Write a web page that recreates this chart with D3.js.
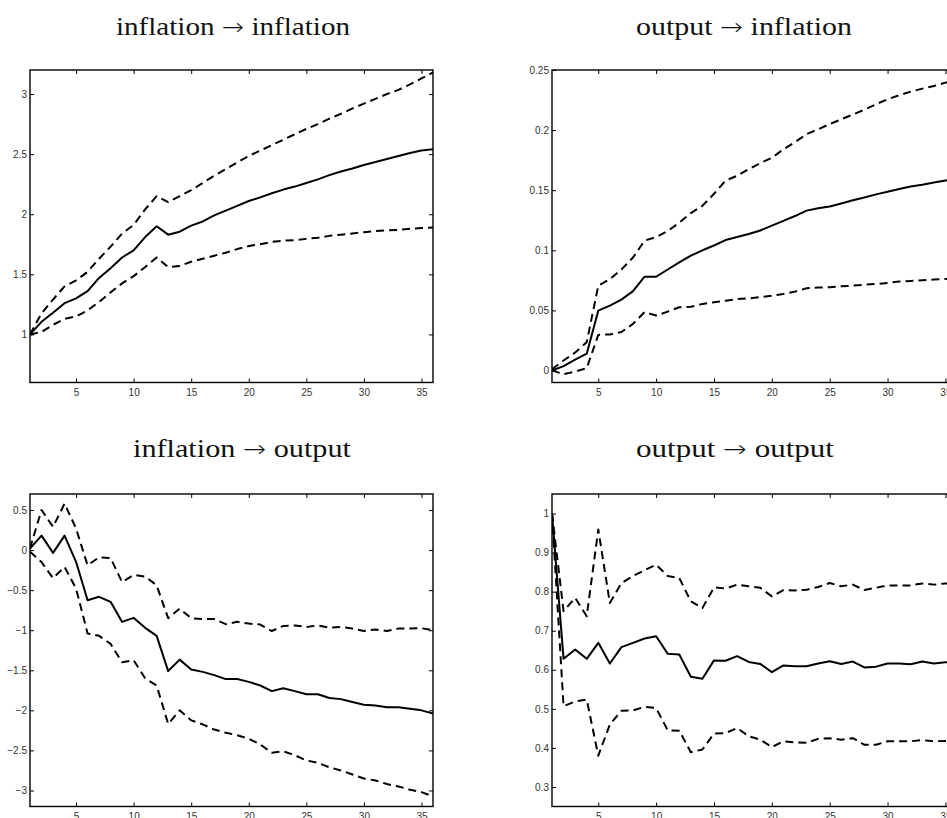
<!DOCTYPE html>
<html>
<head>
<meta charset="utf-8">
<script src="https://cdn.jsdelivr.net/npm/d3@7"></script>
<style>
  html, body { margin: 0; padding: 0; background: #fff; }
  svg { display: block; }
</style>
</head>
<body>
<svg id="chart" width="947" height="818"></svg>
<script>
// ---------------- DATA ----------------
const horizon = [1,2,3,4,5,6,7,8,9,10,11,12,13,14,15,16,17,18,19,20,21,22,23,24,25,26,27,28,29,30,31,32,33,34,35,36];
const xTicks = [5,10,15,20,25,30,35];

// titles: [shock, response]
const titles = [["inflation", "inflation"], ["output", "inflation"], ["inflation", "output"], ["output", "output"]];

// inflation -> inflation
const infInfMid = [1.0,1.105,1.18,1.26,1.30,1.36,1.47,1.55,1.64,1.70,1.81,1.90,1.83,1.855,1.905,1.94,1.99,2.03,2.07,2.11,2.14,2.175,2.205,2.23,2.26,2.29,2.325,2.355,2.38,2.41,2.435,2.46,2.485,2.51,2.53,2.54];
const infInfHi  = [1.0,1.175,1.29,1.40,1.45,1.52,1.63,1.73,1.84,1.91,2.04,2.15,2.10,2.15,2.20,2.26,2.32,2.375,2.43,2.485,2.53,2.575,2.62,2.665,2.71,2.75,2.795,2.835,2.88,2.92,2.96,3.0,3.035,3.08,3.13,3.18];
const infInfLo  = [1.0,1.02,1.08,1.13,1.15,1.20,1.27,1.35,1.425,1.485,1.56,1.64,1.56,1.57,1.605,1.63,1.655,1.68,1.71,1.735,1.75,1.77,1.78,1.785,1.795,1.805,1.82,1.83,1.84,1.85,1.86,1.865,1.87,1.88,1.885,1.89];
const infInfYTicks = [1,1.5,2,2.5,3];

// output -> inflation
const outInfMid = [0,0.0036,0.009,0.014,0.0498,0.054,0.059,0.066,0.078,0.078,0.084,0.090,0.0955,0.100,0.104,0.1085,0.111,0.1135,0.1165,0.1205,0.1245,0.1285,0.133,0.135,0.1365,0.139,0.1417,0.144,0.1465,0.1487,0.151,0.153,0.1545,0.1564,0.158,0.1595];
const outInfHi  = [0.001,0.0083,0.015,0.0235,0.0706,0.076,0.084,0.094,0.108,0.111,0.116,0.123,0.131,0.137,0.147,0.158,0.162,0.1675,0.1725,0.177,0.184,0.190,0.1966,0.2007,0.205,0.209,0.213,0.217,0.2215,0.2256,0.229,0.232,0.2345,0.2367,0.2395,0.241];
const outInfLo  = [0,-0.003,-0.001,0.002,0.0296,0.030,0.032,0.0388,0.0485,0.0457,0.049,0.0526,0.053,0.0554,0.0567,0.058,0.0595,0.060,0.061,0.0623,0.0637,0.0656,0.0684,0.069,0.0692,0.070,0.0706,0.0714,0.072,0.0728,0.074,0.0745,0.075,0.0756,0.0761,0.0765];
const outInfYTicks = [0,0.05,0.1,0.15,0.2,0.25];

// inflation -> output
const infOutMid = [0.02,0.18,-0.035,0.18,-0.146,-0.625,-0.583,-0.646,-0.896,-0.846,-0.97,-1.07,-1.51,-1.367,-1.49,-1.52,-1.56,-1.61,-1.61,-1.645,-1.69,-1.76,-1.725,-1.76,-1.80,-1.80,-1.846,-1.86,-1.896,-1.93,-1.94,-1.96,-1.96,-1.98,-2.0,-2.04];
const infOutHi  = [0.02,0.5,0.29,0.58,0.27,-0.19,-0.09,-0.10,-0.40,-0.31,-0.33,-0.44,-0.85,-0.73,-0.85,-0.86,-0.86,-0.925,-0.895,-0.917,-0.93,-1.01,-0.946,-0.94,-0.96,-0.94,-0.967,-0.96,-0.98,-1.01,-0.99,-1.01,-0.98,-0.98,-0.975,-1.0];
const infOutLo  = [-0.02,-0.15,-0.35,-0.21,-0.48,-1.04,-1.07,-1.17,-1.40,-1.375,-1.60,-1.69,-2.17,-2.0,-2.125,-2.175,-2.24,-2.28,-2.31,-2.355,-2.425,-2.53,-2.51,-2.56,-2.625,-2.655,-2.71,-2.75,-2.80,-2.85,-2.875,-2.92,-2.95,-2.99,-3.02,-3.075];
const infOutYTicks = [-3,-2.5,-2,-1.5,-1,-0.5,0,0.5];

// output -> output
const outOutMid = [1.0,0.628,0.652,0.628,0.669,0.616,0.658,0.669,0.68,0.686,0.641,0.639,0.582,0.577,0.624,0.623,0.635,0.620,0.615,0.594,0.611,0.609,0.609,0.616,0.622,0.615,0.621,0.606,0.608,0.616,0.616,0.614,0.621,0.616,0.619,0.62];
const outOutHi  = [1.0,0.75,0.784,0.737,0.959,0.771,0.822,0.84,0.855,0.869,0.84,0.835,0.775,0.758,0.811,0.808,0.818,0.814,0.81,0.788,0.804,0.803,0.805,0.812,0.822,0.814,0.818,0.804,0.81,0.816,0.816,0.816,0.821,0.818,0.821,0.822];
const outOutLo  = [1.0,0.507,0.519,0.524,0.38,0.46,0.495,0.496,0.505,0.502,0.445,0.444,0.389,0.396,0.437,0.438,0.451,0.43,0.421,0.402,0.417,0.414,0.413,0.423,0.425,0.421,0.425,0.408,0.408,0.417,0.417,0.417,0.42,0.417,0.418,0.418];
const outOutYTicks = [0.3,0.4,0.5,0.6,0.7,0.8,0.9,1];

// ---------------- LAYOUT ----------------
const panels = [
  { title: titles[0], tx: 116, ty: 35, tw: 234, box: [30, 70, 433, 382.5], ydom: [0.6, 3.2], yTicks: infInfYTicks, mid: infInfMid, hi: infInfHi, lo: infInfLo },
  { title: titles[1], tx: 636, ty: 35, tw: 216, box: [552, 70, 957, 382.5], ydom: [-0.01, 0.25], yTicks: outInfYTicks, mid: outInfMid, hi: outInfHi, lo: outInfLo },
  { title: titles[2], tx: 133, ty: 457, tw: 218, box: [30, 494, 433, 806.5], ydom: [-3.2, 0.7], yTicks: infOutYTicks, mid: infOutMid, hi: infOutHi, lo: infOutLo },
  { title: titles[3], tx: 636, ty: 457, tw: 198, box: [552, 494, 957, 806.5], ydom: [0.25, 1.05], yTicks: outOutYTicks, mid: outOutMid, hi: outOutHi, lo: outOutLo }
];

const svg = d3.select("#chart");
svg.append("rect").attr("width", 947).attr("height", 818).attr("fill", "#fff");

const fmt = v => {
  const s = String(+v.toFixed(4));
  return s.replace("-", "\u2212");
};

panels.forEach((p, i) => {
  const [x0, y0, x1, y1] = p.box;
  const x = d3.scaleLinear().domain([1, 36]).range([x0, x1]);
  const y = d3.scaleLinear().domain(p.ydom).range([y1, y0]);

  // title
  const t = svg.append("text")
    .attr("x", p.tx).attr("y", p.ty)
    .attr("font-family", "'Liberation Serif', 'DejaVu Serif', serif")
    .attr("font-size", 25)
    .attr("textLength", p.tw)
    .attr("lengthAdjust", "spacingAndGlyphs")
    .attr("fill", "#111");
  t.append("tspan").text(p.title[0] + " ");
  t.append("tspan").attr("font-family", "'DejaVu Sans', sans-serif").attr("font-size", 23).attr("font-weight", 200).text("\u2192");
  t.append("tspan").text(" " + p.title[1]);

  const g = svg.append("g");

  const clipId = "clip" + i;
  svg.append("clipPath").attr("id", clipId)
    .append("rect").attr("x", x0).attr("y", y0).attr("width", x1 - x0).attr("height", y1 - y0);

  const tickFont = sel => sel.selectAll("text")
    .attr("font-family", "'Liberation Sans', Arial, Helvetica, sans-serif")
    .attr("font-size", 10)
    .attr("fill", "#333");

  // axes (ticks pointing inward)
  const ax = g.append("g").attr("transform", `translate(0,${y1})`)
    .call(d3.axisBottom(x).tickValues(xTicks).tickSizeInner(-4).tickSizeOuter(0).tickPadding(6).tickFormat(d3.format("d")));
  ax.call(tickFont);
  const axT = g.append("g").attr("transform", `translate(0,${y0})`)
    .call(d3.axisTop(x).tickValues(xTicks).tickSizeInner(-4).tickSizeOuter(0).tickFormat(""));
  const ay = g.append("g").attr("transform", `translate(${x0},0)`)
    .call(d3.axisLeft(y).tickValues(p.yTicks).tickSizeInner(-4).tickSizeOuter(0).tickPadding(3).tickFormat(fmt));
  ay.call(tickFont);
  const ayR = g.append("g").attr("transform", `translate(${x1},0)`)
    .call(d3.axisRight(y).tickValues(p.yTicks).tickSizeInner(-4).tickSizeOuter(0).tickFormat(""));
  [ax, axT, ay, ayR].forEach(a => {
    a.select(".domain").remove();
    a.selectAll(".tick line").attr("stroke", "#000").attr("stroke-width", 1);
  });

  // lines
  const line = d3.line().x((d, j) => x(horizon[j])).y(d => y(d));
  const lg = g.append("g").attr("clip-path", `url(#${clipId})`);
  lg.append("path").datum(p.hi).attr("d", line)
    .attr("fill", "none").attr("stroke", "#000").attr("stroke-width", 2)
    .attr("stroke-dasharray", "8,5").attr("stroke-linejoin", "round");
  lg.append("path").datum(p.lo).attr("d", line)
    .attr("fill", "none").attr("stroke", "#000").attr("stroke-width", 2)
    .attr("stroke-dasharray", "8,5").attr("stroke-linejoin", "round");
  lg.append("path").datum(p.mid).attr("d", line)
    .attr("fill", "none").attr("stroke", "#000").attr("stroke-width", 2)
    .attr("stroke-linejoin", "round");

  // box
  g.append("rect").attr("x", x0).attr("y", y0)
    .attr("width", x1 - x0).attr("height", y1 - y0)
    .attr("fill", "none").attr("stroke", "#000").attr("stroke-width", 1.4);
});
</script>
</body>
</html>
